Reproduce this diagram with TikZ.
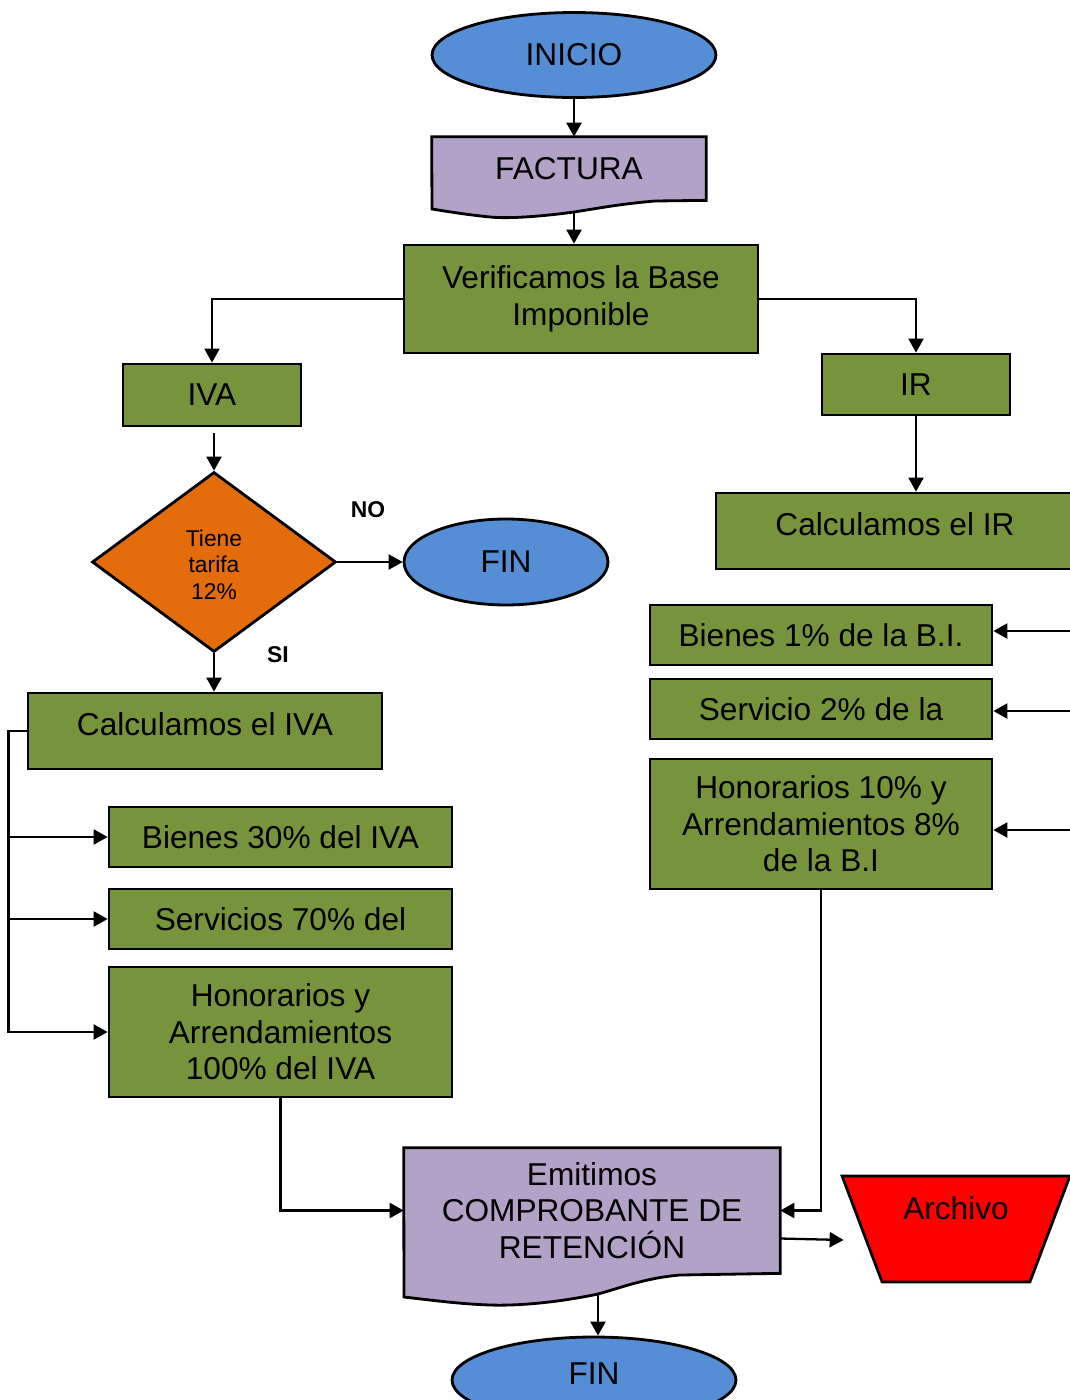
\documentclass[tikz,border=0pt]{standalone}
\usepackage{fontspec}
\setmainfont{Liberation Sans}
\usetikzlibrary{shapes.geometric,arrows.meta,calc,backgrounds}
\definecolor{termblue}{RGB}{85,142,213}
\definecolor{docpurple}{RGB}{179,162,199}
\definecolor{boxgreen}{RGB}{119,147,60}
\definecolor{decorange}{RGB}{228,108,10}

\begin{document}
\begin{tikzpicture}[x=0.02cm, y=-0.02cm,
  every node/.style={font=\fontsize{18pt}{20.8pt}\selectfont, align=center},
  term/.style={ellipse, draw, line width=1.6pt, fill=termblue},
  greenbox/.style={rectangle, draw, line width=1.6pt, fill=boxgreen, minimum width=6.86cm, minimum height=1.2cm},
  docbox/.style={rectangle, inner sep=0pt},
  docline/.style={draw, line width=1.6pt, fill=docpurple},
  flow/.style={line width=1.3pt, -{Triangle[length=0.28cm,width=0.3cm]}},
  tag/.style={font=\bfseries\fontsize{13pt}{15pt}\selectfont}]
  \useasboundingbox (0,0) rectangle (1070,1400);

  % top of the chart
  \node[term, minimum width=5.68cm, minimum height=1.7cm] (ini) at (574,55) {INICIO};
  \node[docbox, minimum width=5.48cm, minimum height=1.26cm] (fact) at (569,168.5) {FACTURA};
  \begin{scope}[on background layer]
    \draw[docline] (fact.south east) -- (655,201) .. controls (620,204) and (600,208) .. (574,212) coordinate (fact-b)
      .. controls (545,216) and (510,219) .. (490,217) .. controls (470,215) and (450,212) .. (432,209)
      -- (fact.north west) -- (fact.north east) -- cycle;
  \end{scope}
  \node[greenbox, minimum width=7.08cm, minimum height=2.16cm] (verif) at (581,299) {Verificamos la Base\\Imponible};

  % IVA branch
  \node[greenbox, minimum width=3.56cm, minimum height=1.24cm] (iva) at (212,395) {IVA};
  \node[diamond, draw, line width=1.6pt, fill=decorange, minimum width=4.88cm, minimum height=3.6cm,
    font=\fontsize{13pt}{15.3pt}\selectfont] (tarifa) at (214,562) {\\[-0.1cm]Tiene\\tarifa\\12\%};
  \node[term, minimum width=4.08cm, minimum height=1.72cm] (fin1) at (506,562) {FIN};
  \node[tag] (no) at (368,510) {NO};
  \node[tag] (si) at (278,655) {SI};
  \node[greenbox, minimum width=7.08cm, minimum height=1.52cm, text depth=0.28cm] (civa) at (205,731) {Calculamos el IVA};
  \node[greenbox] (b30) at (280.5,837) {Bienes 30\% del IVA};
  \node[greenbox] (s70) at (280.5,919) {Servicios 70\% del};
  \node[greenbox, minimum height=2.6cm] (h100) at (280.5,1032) {Honorarios y\\Arrendamientos\\100\% del IVA};

  % IR branch
  \node[greenbox, minimum width=3.76cm, minimum height=1.22cm] (ir) at (916,384.5) {IR};
  \node[greenbox, minimum width=7.16cm, minimum height=1.52cm, text depth=0.28cm] (cir) at (895,531) {Calculamos el IR};
  \node[greenbox, minimum width=6.84cm] (b1) at (821,635) {Bienes 1\% de la B.I.};
  \node[greenbox, minimum width=6.84cm] (s2) at (821,709) {Servicio 2\% de la};
  \node[greenbox, minimum width=6.84cm, minimum height=2.6cm] (h10) at (821,824) {Honorarios 10\% y\\Arrendamientos 8\%\\de la B.I};
  \coordinate (r1) at (1070,631);
  \coordinate (r2) at (1070,711);
  \coordinate (r3) at (1070,830);

  % bottom of the chart
  \node[docbox, minimum width=7.52cm, minimum height=2.5cm] (emit) at (592,1210.5) {Emitimos\\COMPROBANTE DE\\RETENCIÓN};
  \begin{scope}[on background layer]
    \draw[docline] (emit.south east) -- (680,1275) .. controls (645,1278) and (620,1288) .. (598,1294) coordinate (emit-b)
      .. controls (560,1302) and (520,1306) .. (490,1305) .. controls (460,1304) and (430,1300) .. (404,1297)
      -- (emit.north west) -- (emit.north east) -- cycle;
  \end{scope}
  \node[trapezium, trapezium angle=67.5, trapezium stretches=true, shape border rotate=180, draw, line width=1.6pt,
    fill=red, minimum width=4.56cm, minimum height=2.12cm, text depth=0.84cm] (arch) at (956,1229) {Archivo};
  \node[term, minimum width=5.68cm, minimum height=1.72cm, text depth=0.24cm] (fin2) at (594,1380) {FIN};

  % connectors
  \draw[flow] (ini) -- (ini |- fact.north);
  \draw[flow] (fact-b) -- (fact-b |- verif.north);
  \draw[flow] (verif.west) -| (iva.north);
  \draw[flow] (verif.east) -| (ir.north);
  \draw[flow] (ir.south) -- (ir.south |- cir.north);
  \draw[flow] ($(iva.south)+(2,6)$) -- (tarifa.north);
  \draw[flow] (tarifa.east) -- (fin1.west);
  \draw[flow] (tarifa.south) -- (tarifa.south |- civa.north);
  \draw[flow] (civa.west) -- ++(-18,0) coordinate (bus) |- (h100.west);
  \draw[flow] (bus |- b30.west) -- (b30.west);
  \draw[flow] (bus |- s70.west) -- (s70.west);
  \draw[flow] (r1) -- (r1 -| b1.east);
  \draw[flow] (r2) -- (r2 -| s2.east);
  \draw[flow] (r3) -- (r3 -| h10.east);
  \draw[flow] (h100.south) |- (emit.west);
  \draw[flow] (h10.south) |- (emit.east);
  \draw[flow] ($(emit.east)+(0,28)$) -- ($(arch.west)+(-17,11)$);
  \draw[flow] (emit-b) -- (emit-b |- fin2.north);
\end{tikzpicture}
\end{document}
